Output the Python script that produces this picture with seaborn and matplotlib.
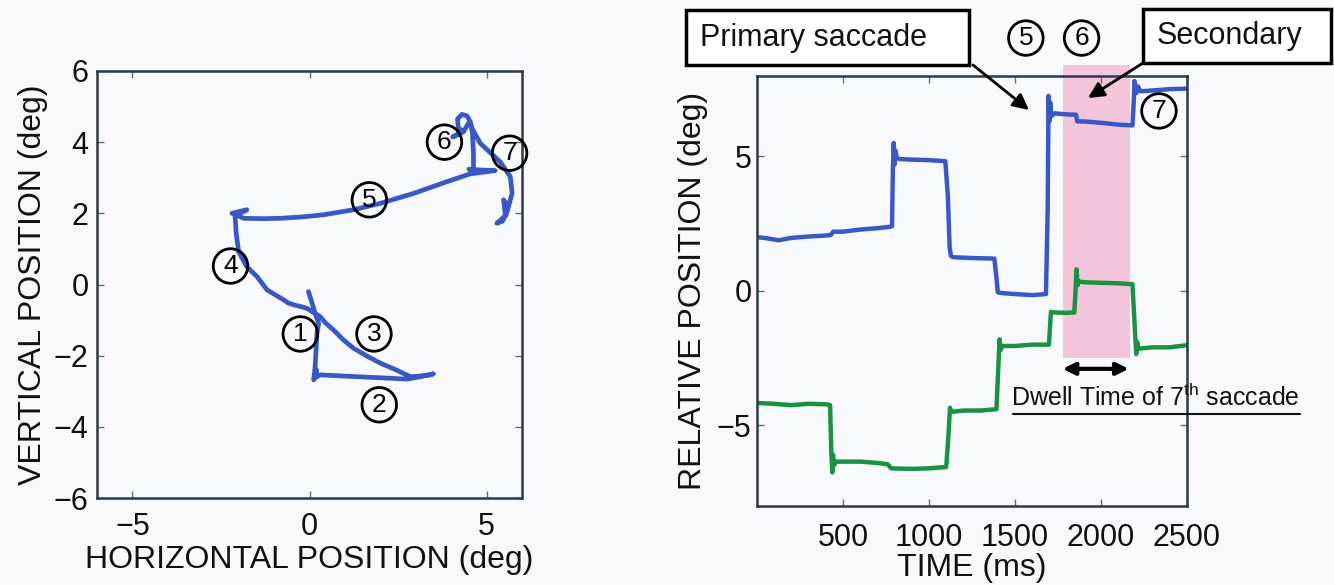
import matplotlib
matplotlib.use("Agg")
import matplotlib.pyplot as plt
from matplotlib.patches import Rectangle, FancyArrowPatch
from matplotlib.lines import Line2D
import pandas as pd
import seaborn as sns

# Gaze trajectory in the visual field (deg), saccades 1-7 in order
gaze_x = [-0.03, 0.05, 0.16, 0.26, 0.21, 0.18, 0.16, 0.12, 0.20, 0.16,
          0.30, 0.90, 1.53, 2.20, 2.75, 3.13, 3.50, 3.35, 3.05, 2.85,
          2.40, 2.00, 1.60, 1.24, 0.95, 0.68, 0.45, 0.30, 0.10, -0.07, -0.25, -0.45, -0.60, -0.73,
          -0.95, -1.20, -1.48, -1.77, -2.00, -2.07, -2.10, -2.12, -2.19, -1.77, -2.05,
          -1.86, -1.30, -0.82, -0.20, 0.40, 1.24, 2.00, 2.94, 3.88, 4.54, 5.24, 4.80, 4.50,
          4.63, 4.63, 4.60, 4.55, 4.45, 4.30, 4.18, 4.20, 4.35, 4.05, 4.35, 4.50,
          4.82, 5.38, 5.67, 5.72, 5.62, 5.55, 5.29, 5.45, 5.53, 5.48, 5.60]
gaze_y = [-0.20, -0.45, -0.81, -1.10, -1.37, -1.93, -2.30, -2.68, -2.40, -2.62,
          -2.54, -2.57, -2.60, -2.63, -2.66, -2.59, -2.51, -2.55, -2.58, -2.59,
          -2.38, -2.21, -2.00, -1.79, -1.55, -1.28, -1.08, -0.90, -0.78, -0.67, -0.62, -0.57, -0.52, -0.43,
          -0.30, -0.15, 0.22, 0.50, 0.92, 1.44, 1.91, 2.00, 2.00, 2.10, 1.95,
          1.86, 1.85, 1.86, 1.90, 1.96, 2.10, 2.28, 2.56, 2.89, 3.11, 3.20, 3.22, 3.24,
          3.20, 3.70, 4.25, 4.55, 4.74, 4.78, 4.65, 4.40, 4.30, 4.15, 4.30, 4.55,
          3.97, 3.45, 3.03, 2.57, 2.19, 1.95, 1.72, 1.78, 1.95, 2.38, 2.20]
saccade_labels = ["1", "2", "3", "4", "5", "6", "7"]

# Eye position over time (ms, deg)
time_blue = [0, 60, 127, 200, 300, 406, 430, 443, 500, 600, 700, 770, 785,
             790, 795, 800, 806, 812, 830, 900, 1000, 1095,
             1110, 1120, 1128, 1140, 1250, 1380,
             1392, 1400, 1420, 1500, 1600, 1680,
             1690, 1695, 1700, 1705, 1712, 1730, 1800, 1855,
             1862, 1900, 2000, 2100, 2183,
             2190, 2195, 2205, 2215, 2230, 2300, 2400, 2500]
pos_blue = [2.00, 1.95, 1.88, 1.97, 2.02, 2.06, 2.08, 2.20, 2.20, 2.28, 2.33, 2.38, 2.40,
            4.50, 5.50, 4.70, 5.20, 4.95, 4.90, 4.88, 4.86, 4.82,
            3.50, 1.60, 1.30, 1.25, 1.22, 1.20,
            0.50, -0.05, -0.08, -0.12, -0.16, -0.12,
            3.00, 7.25, 6.30, 7.00, 6.50, 6.60, 6.56, 6.55,
            6.30, 6.30, 6.25, 6.18, 6.15,
            7.00, 7.80, 7.35, 7.60, 7.42, 7.45, 7.50, 7.52]
time_green = [0, 100, 200, 300, 406, 425, 432, 438, 442, 447, 460, 600, 700, 760,
              780, 900, 1000, 1100,
              1112, 1122, 1130, 1200, 1300, 1392,
              1402, 1410, 1417, 1425, 1500, 1600, 1697,
              1702, 1709, 1720, 1800, 1845,
              1852, 1858, 1863, 1870, 1900, 2000, 2100, 2183,
              2195, 2205, 2210, 2218, 2300, 2400, 2500]
pos_green = [-4.17, -4.20, -4.25, -4.20, -4.22, -4.25, -6.00, -6.75, -6.10, -6.50, -6.35, -6.35, -6.40, -6.45,
             -6.60, -6.62, -6.60, -6.55,
             -5.50, -4.35, -4.50, -4.45, -4.45, -4.40,
             -3.00, -1.80, -2.20, -2.05, -2.05, -2.00, -2.00,
             -1.50, -0.78, -0.80, -0.82, -0.80,
             0.00, 0.80, 0.20, 0.35, 0.32, 0.30, 0.28, 0.25,
             -1.20, -2.35, -1.90, -2.15, -2.10, -2.10, -2.02]

dwell_start, dwell_end = 1777, 2166

BG = "#f8f9fc"
BLUE = "#3a58c4"
GREEN = "#1b9142"
SPINE = "#2a3a48"

sns.set_theme(style="ticks")
plt.rcParams["font.family"] = ["Liberation Sans", "DejaVu Sans"]
plt.rcParams["mathtext.fontset"] = "custom"
plt.rcParams["mathtext.rm"] = "Liberation Sans"

W, H = 1334, 585
fig = plt.figure(figsize=(W / 100, H / 100), dpi=100, facecolor=BG)


def fx(px):
    return px / W


def fy(py):
    return 1 - py / H


ax1 = fig.add_axes([fx(97), fy(498), fx(522) - fx(97), fy(71) - fy(498)])
ax2 = fig.add_axes([fx(757), fy(506), fx(1187) - fx(757), fy(75.7) - fy(506)])

for ax in (ax1, ax2):
    ax.set_facecolor(BG)
    for s in ax.spines.values():
        s.set_color(SPINE)
        s.set_linewidth(1.8)
    ax.tick_params(direction="in", top=True, right=True, length=5, width=1,
                   color="#5a7080", labelsize=22, labelcolor="#111111")

# ---- left: gaze trajectory ----
traj = pd.DataFrame({"x": gaze_x, "y": gaze_y})
sns.lineplot(data=traj, x="x", y="y", sort=False, estimator=None, ax=ax1,
             color=BLUE, lw=3.4, solid_capstyle="round", solid_joinstyle="round")
ax1.set_xlim(-6, 6)
ax1.set_ylim(-6, 6)
ax1.set_xticks([-5, 0, 5])
ax1.set_yticks([-6, -4, -2, 0, 2, 4, 6])
ax1.tick_params(axis="x", pad=10)
ax1.tick_params(axis="y", pad=6)
ax1.set_xlabel("HORIZONTAL POSITION (deg)", fontsize=23, labelpad=2, color="#111111")
ax1.set_ylabel("VERTICAL POSITION (deg)", fontsize=23, labelpad=4, color="#111111")

circ_pos_left = [(-0.26, -1.39), (1.97, -3.38), (1.82, -1.39), (-2.23, 0.52),
                 (1.69, 2.38), (3.81, 4.0), (5.65, 3.69)]
circ = dict(boxstyle="circle,pad=0.2", fc="none", ec="black", lw=2)
for lab, (cx, cy) in zip(saccade_labels, circ_pos_left):
    ax1.text(cx, cy, lab, fontsize=19, ha="center", va="center", bbox=circ,
             color="black", zorder=5)

# ---- right: position over time ----
ts = pd.concat([
    pd.DataFrame({"t": time_blue, "pos": pos_blue, "trace": "vertical"}),
    pd.DataFrame({"t": time_green, "pos": pos_green, "trace": "horizontal"}),
])
ax2.add_patch(Rectangle((dwell_start, -2.5), dwell_end - dwell_start, 10.9,
                        facecolor="#f3c5db", edgecolor="none", clip_on=False, zorder=0))
sns.lineplot(data=ts, x="t", y="pos", hue="trace", palette=[BLUE, GREEN],
             sort=False, estimator=None, ax=ax2, lw=3.2, legend=False, zorder=2)
ax2.set_xlim(0, 2500)
ax2.set_ylim(-8, 8)
ax2.set_xticks([500, 1000, 1500, 2000, 2500])
ax2.set_yticks([-5, 0, 5])
ax2.tick_params(axis="x", pad=12)
ax2.tick_params(axis="y", pad=4)
ax2.set_xlabel("TIME (ms)", fontsize=23, labelpad=0, color="#111111")
ax2.set_ylabel("RELATIVE POSITION (deg)", fontsize=23, labelpad=6, color="#111111")

circ_pos_right = {"5": (1563, 9.4), "6": (1887, 9.4), "7": (2337, 6.69)}
for lab, (cx, cy) in circ_pos_right.items():
    ax2.text(cx, cy, lab, fontsize=19, ha="center", va="center", bbox=circ,
             color="black", zorder=5, clip_on=False)

# dwell time marker
ax2.annotate("", xy=(dwell_start, -2.9), xytext=(dwell_end - 5, -2.9),
             arrowprops=dict(arrowstyle="<|-|>", lw=3, mutation_scale=18,
                             color="black", shrinkA=0, shrinkB=0))
ax2.text(1478, -4.28, r"Dwell Time of 7$^{\mathrm{th}}$ saccade", fontsize=18,
         ha="left", va="baseline", color="#111111")
fig.add_artist(Line2D([fx(1013), fx(1300)], [fy(414), fy(414)], color="#111111", lw=1.5))

# callout boxes
for (x0, y0, x1, y1) in [(686, 10, 969, 65), (1143, 9, 1331, 63)]:
    fig.add_artist(Rectangle((fx(x0), fy(y1)), fx(x1) - fx(x0), fy(y0) - fy(y1),
                             transform=fig.transFigure, facecolor="white",
                             edgecolor="black", lw=2.5))
fig.text(fx(700), fy(38), "Primary saccade", fontsize=22, ha="left", va="center", color="#111111")
fig.text(fx(1157), fy(36), "Secondary", fontsize=22, ha="left", va="center", color="#111111")

for (a, b) in [((973, 65), (1029, 110)), ((1143, 63), (1088, 98))]:
    fig.add_artist(FancyArrowPatch((fx(a[0]), fy(a[1])), (fx(b[0]), fy(b[1])),
                                   transform=fig.transFigure, arrowstyle="-|>",
                                   mutation_scale=24, lw=2, color="black",
                                   shrinkA=0, shrinkB=0))

fig.savefig("out.png", dpi=100, facecolor=BG)
